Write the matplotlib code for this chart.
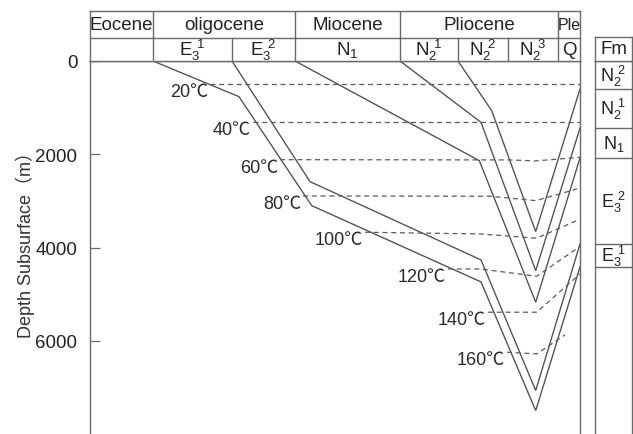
import matplotlib
matplotlib.use("Agg")
import matplotlib.pyplot as plt

plt.rcParams['font.family'] = ['Liberation Sans', 'Noto Sans CJK SC', 'DejaVu Sans']
plt.rcParams['mathtext.fontset'] = 'custom'
plt.rcParams['mathtext.rm'] = 'Liberation Sans'
plt.rcParams['mathtext.it'] = 'Liberation Sans'

# ---------------- data ----------------
# schematic horizontal position (time axis, arbitrary units 0..490)
epoch_edges = [0, 63, 205, 310, 468, 490]
epoch_names = ["Eocene", "oligocene", "Miocene", "Pliocene", "Ple"]
stage_edges = [0, 63, 142, 205, 310, 368, 418, 468, 490]
stage_names = ["", r"$\mathrm{E_3^{\;\,1}}$", r"$\mathrm{E_3^{\;\,2}}$", r"$\mathrm{N_1}$",
               r"$\mathrm{N_2^{\;\,1}}$", r"$\mathrm{N_2^{\;\,2}}$", r"$\mathrm{N_2^{\;\,3}}$", "Q"]

# burial curves (base of each formation): x position, depth (m)
burial_x = {
    "E3_1": [63, 149, 221.7, 391, 445.7, 490],
    "E3_2": [142, 220, 391, 445.7, 490],
    "N1":   [205, 389.3, 445.7, 490],
    "N2_1": [310, 391, 445.7, 490],
    "N2_2": [368, 401.7, 445.7, 490],
}
burial_d = {
    "E3_1": [0, 765, 3102, 4738, 7497, 4417],
    "E3_2": [0, 2588, 4266, 7068, 3924],
    "N1":   [0, 2137, 5174, 2080],
    "N2_1": [0, 1315, 4496, 1437],
    "N2_2": [0, 1065, 3660, 600],
}

# isotherms
iso_labels = ["20℃", "40℃", "60℃", "80℃", "100℃", "120℃", "140℃", "160℃"]
iso_x = [
    [120, 490],
    [163, 490],
    [190, 420, 445.7, 490],
    [213, 400, 445.7, 487],
    [275, 390, 446.7, 486.7],
    [358, 390, 446.7, 489],
    [398, 446.7, 490],
    [417, 446.7, 475],
]
iso_d = [
    [493, 493],
    [1301, 1301],
    [2116, 2122, 2143, 2065],
    [2895, 2900, 2995, 2745],
    [3673, 3709, 3801, 3424],
    [4460, 4460, 4616, 3994],
    [5388, 5388, 4567],
    [6246, 6282, 5874],
]

yticks = [0, 2000, 4000, 6000]
fm_names = [r"$\mathrm{N_2^{\;\,2}}$", r"$\mathrm{N_2^{\;\,1}}$", r"$\mathrm{N_1}$",
            r"$\mathrm{E_3^{\;\,2}}$", r"$\mathrm{E_3^{\;\,1}}$"]

# ---------------- figure ----------------
W, H = 633, 435
fig = plt.figure(figsize=(W / 100, H / 100), dpi=100)

line_c = "#4d4d4d"
box_c = "#6a6a6a"

L, R = 90 / W, 580 / W
top0 = 1 - 62 / H
ax = fig.add_axes([L, 0, R - L, top0])
ax.set_xlim(0, 490)
ax.set_ylim(8000, 0)
for s in ["left", "right", "top"]:
    ax.spines[s].set_color(box_c)
    ax.spines[s].set_linewidth(1.0)
ax.spines["bottom"].set_visible(False)
ax.set_xticks([])
ax.set_yticks(yticks)
ax.tick_params(axis="y", direction="in", length=7, width=0.9, color=box_c,
               labelsize=13.5, pad=9, labelcolor="#222222")

for k in burial_x:
    ax.plot(burial_x[k], burial_d[k], color=line_c, lw=0.95, solid_joinstyle="miter")

for lab, xs, ds in zip(iso_labels, iso_x, iso_d):
    ax.plot(xs, ds, color="#5a5a5a", lw=0.9, ls=(0, (4, 3)))
    ax.annotate(lab, xy=(xs[0], ds[0]), xytext=(-1.5, -5.5), textcoords="offset points",
                ha="right", va="center", fontsize=13, color="#2a2a2a")

fig.text(25 / W, 1 - 240 / H, "Depth Subsurface（m）", rotation=90,
         ha="center", va="center", fontsize=13, color="#333333")

# header
hax = fig.add_axes([L, top0, R - L, 50 / H])
hax.set_xlim(0, 490)
hax.set_ylim(0, 50)
hax.set_xticks([]); hax.set_yticks([])
for s in hax.spines.values():
    s.set_color(box_c); s.set_linewidth(1.0)
hax.axhline(23, color=box_c, lw=1.0)
for e in epoch_edges[1:-1]:
    hax.plot([e, e], [23, 50], color=box_c, lw=1.0)
for e in stage_edges[1:-1]:
    hax.plot([e, e], [0, 23], color=box_c, lw=1.0)
for i, name in enumerate(epoch_names):
    cx = (epoch_edges[i] + epoch_edges[i + 1]) / 2
    if name == "Ple":
        hax.text(cx, 37, name, ha="center", va="center", fontsize=11.5,
                 family=['Liberation Sans Narrow', 'Liberation Sans'], color="#222222")
    else:
        hax.text(cx, 37, name, ha="center", va="center", fontsize=13.5, color="#222222")
for i, name in enumerate(stage_names):
    cx = (stage_edges[i] + stage_edges[i + 1]) / 2
    hax.text(cx, 11.5, name, ha="center", va="center", fontsize=13.5, color="#222222")

# formation column
FL, FR = 595 / W, 632 / W
fax = fig.add_axes([FL, 0, FR - FL, top0])
fax.set_xlim(0, 1)
fax.set_ylim(8000, 0)
fax.set_xticks([]); fax.set_yticks([])
for s in ["left", "right", "top"]:
    fax.spines[s].set_color(box_c); fax.spines[s].set_linewidth(1.0)
fax.spines["bottom"].set_visible(False)
bounds = [0] + sorted(v[-1] for v in burial_d.values())
for b in bounds[1:]:
    fax.axhline(b, color=box_c, lw=1.0)
for i, name in enumerate(fm_names):
    fax.text(0.5, (bounds[i] + bounds[i + 1]) / 2, name, ha="center", va="center",
             fontsize=13, color="#222222")

fhx = fig.add_axes([FL, top0, FR - FL, 24 / H])
fhx.set_xticks([]); fhx.set_yticks([])
for s in fhx.spines.values():
    s.set_color(box_c); s.set_linewidth(1.0)
fhx.text(0.5, 0.5, "Fm", ha="center", va="center", fontsize=13.5, color="#222222",
         transform=fhx.transAxes)

fig.savefig("out.png", dpi=100)
